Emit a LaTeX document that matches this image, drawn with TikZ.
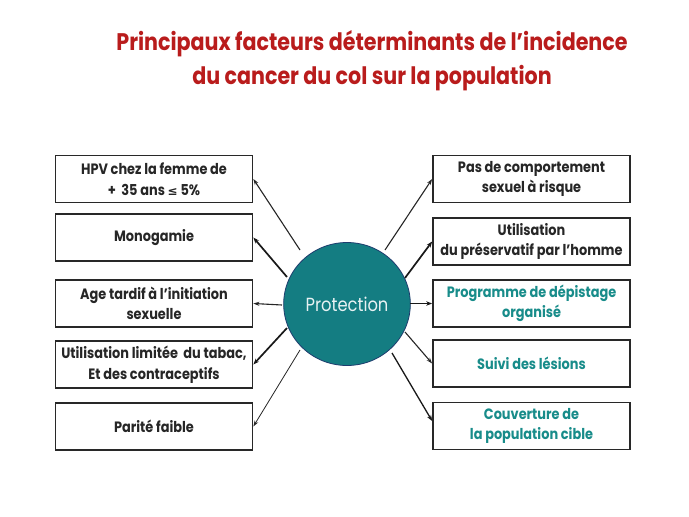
\documentclass[tikz,border=0pt]{standalone}
\usepackage{fontspec}
\usetikzlibrary{shapes.geometric,arrows.meta}
\newfontfamily\gfont[FakeStretch=0.86]{Poppins}
\newfontfamily\symfont{DejaVu Sans}
\definecolor{titlered}{RGB}{185,28,28}
\definecolor{tealtext}{RGB}{24,140,138}
\definecolor{tealfill}{RGB}{20,125,130}
\definecolor{circborder}{RGB}{30,60,110}
\definecolor{boxline}{RGB}{40,40,40}
\tikzset{
  factbox/.style={draw=boxline, line width=1.7pt, minimum width=197pt, minimum height=47pt,
    align=center, inner sep=2pt, font=\gfont\bfseries\fontsize{15}{20.5}\selectfont, text=black!85},
  tealbox/.style={factbox, text=tealtext},
  thinarrow/.style={-{Stealth[length=6pt,width=4pt]}, line width=1.1pt, black!85},
  thickarrow/.style={-{Stealth[length=6pt,width=4.5pt]}, line width=1.7pt, black!90},
}
\begin{document}
\begin{tikzpicture}[x=1pt,y=-1pt]
\useasboundingbox (0,0) rectangle (689,517);
\fill[white] (0,0) rectangle (689,517);
% title
\node[text=titlered, font=\gfont\bfseries\fontsize{24}{34}\selectfont, align=center] (title) at (372,61)
  {Principaux facteurs déterminants de l’incidence\\du cancer du col sur la population};
% circle
\node[ellipse, draw=circborder, line width=0.8pt, fill=tealfill, minimum width=115pt, minimum height=123pt,
  text=white!90!tealfill, font=\gfont\fontsize{19}{22}\selectfont] (c) at (347,304) {Protection};
% left boxes
\node[factbox] (b1) at (154,179) {HPV chez la femme de\\+ \ 35 ans {\symfont\fontsize{12}{20}\selectfont ≤} 5\%};
\node[factbox] (b2) at (154,237.5) {Monogamie};
\node[factbox] (b3) at (154,303.5) {Age tardif à l’initiation\\sexuelle};
\node[factbox] (b4) at (154,364.5) {Utilisation limitée \ du tabac,\\Et des contraceptifs};
\node[factbox] (b5) at (154,426.5) {Parité faible};
% right boxes
\node[factbox] (r1) at (531.5,179) {Pas de comportement\\sexuel à risque};
\node[factbox] (r2) at (531.5,241.5) {Utilisation\\du préservatif par l’homme};
\node[tealbox] (r3) at (531.5,303.5) {Programme de dépistage\\organisé};
\node[tealbox] (r4) at (531.5,363.5) {Suivi des lésions};
\node[tealbox] (r5) at (531.5,426) {Couverture de\\la population cible};
% arrow start points
\coordinate (s1) at (300,250);
\coordinate (s2) at (287,277);
\coordinate (s3) at (282,305);
\coordinate (s4) at (287,328);
\coordinate (s5) at (300,350);
\coordinate (t1) at (385,250);
\coordinate (t2) at (405,278);
\coordinate (t3) at (410,303.5);
\coordinate (t4) at (405,332);
\coordinate (t5) at (392,353);
% arrows
\draw[thinarrow] (s1) -- (b1.east);
\draw[thickarrow] (s2) -- (b2.east);
\draw[thinarrow] (s3) -- (b3.east);
\draw[thickarrow] (s4) -- (b4.east);
\draw[thinarrow, line width=0.8pt] (s5) -- (b5.east);
\draw[thinarrow] (t1) -- (r1.west);
\draw[thickarrow] (t2) -- (r2.west);
\draw[thickarrow] (t3) -- (r3.west);
\draw[thinarrow] (t4) -- (r4.west);
\draw[thickarrow, line width=1.3pt] (t5) -- ([yshift=5pt]r5.west);
\end{tikzpicture}
\end{document}
